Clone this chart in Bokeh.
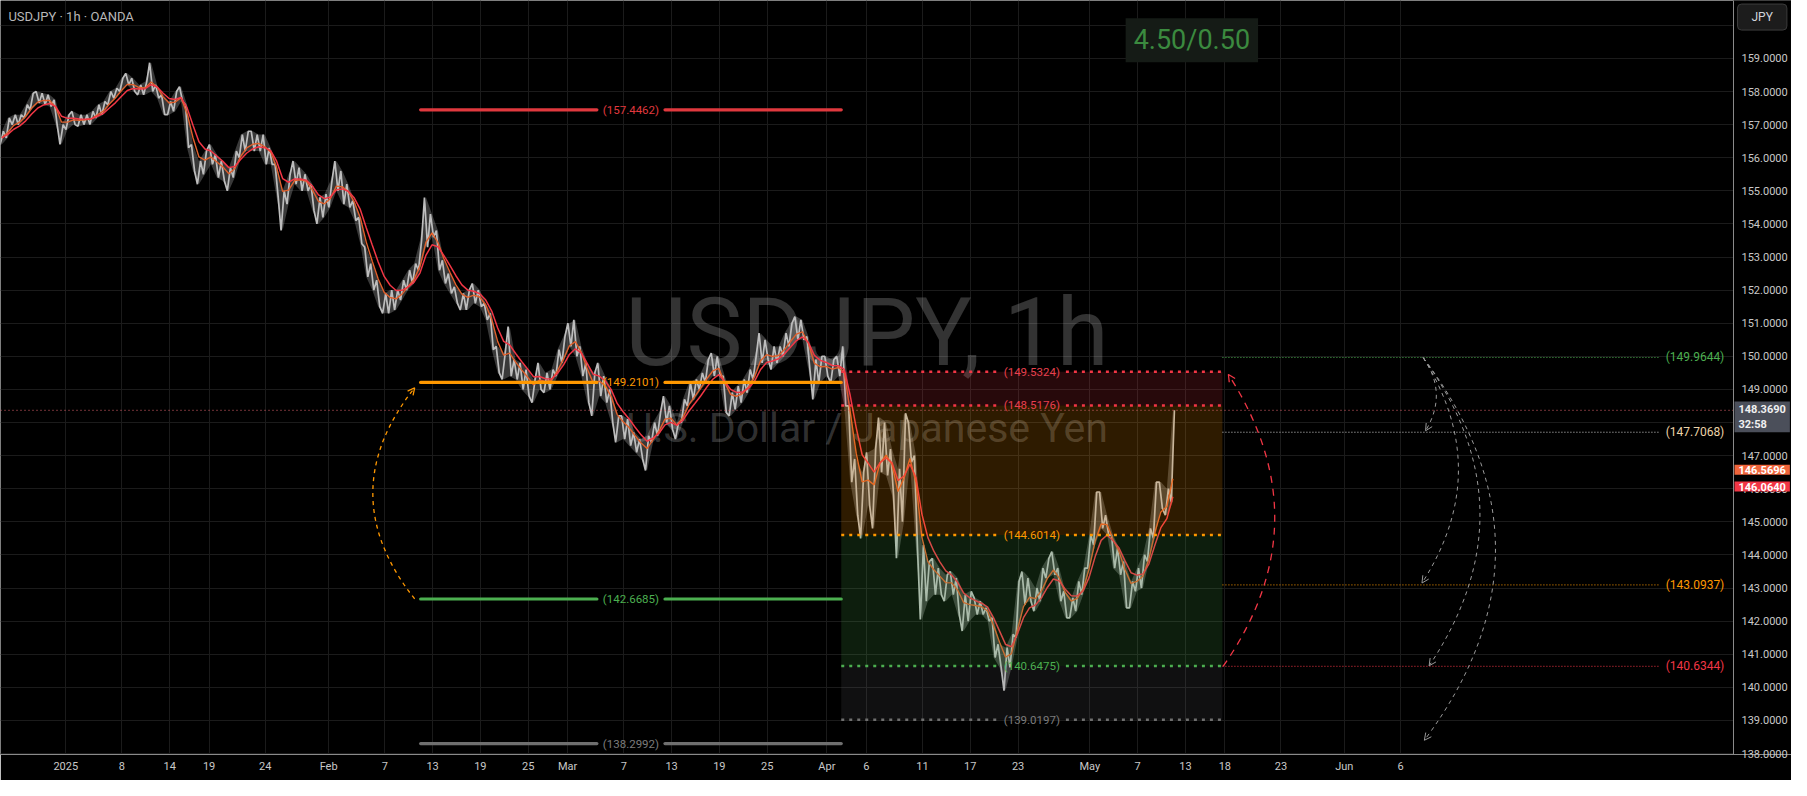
import numpy as np
from bokeh.plotting import figure
from bokeh.models import (Range1d, FixedTicker, Label, Span, Arrow, OpenHead,
                          PrintfTickFormatter)
from bokeh.core.properties import value
from bokeh.embed import file_html
from bokeh.resources import INLINE

FONT = "Roboto"

# ---------------- data ----------------
first_day = "2024-12-23"          # trading-day index 0
holidays = ["2024-12-25", "2025-01-01"]

# half-day (AM, PM) low / high of USDJPY 1h candles, from Dec 23 2024 AM
price_lo = [
    156.40, 156.60, 157.00, 157.00, 157.20, 157.45, 157.65, 157.60, 157.55, 157.00,
    156.40, 156.85, 157.00, 156.95, 157.00, 157.00, 157.20, 157.30, 157.60, 157.80,
    158.00, 158.20, 158.00, 157.90, 157.90, 158.00, 157.80, 157.30, 157.30, 157.40,
    157.70, 156.30, 155.60, 155.20, 155.50, 155.80, 155.40, 155.30, 155.00, 155.40,
    156.00, 156.20, 156.20, 156.20, 155.80, 155.80, 154.80, 153.80, 154.60, 155.20,
    155.00, 155.00, 154.40, 154.00, 154.20, 154.50, 155.00, 154.60, 154.50, 154.10,
    153.40, 152.40, 152.00, 151.50, 151.30, 151.30, 151.40, 151.70, 152.00, 152.20,
    152.60, 153.30, 153.60, 152.60, 152.20, 151.90, 151.60, 151.40, 151.40, 151.60,
    151.50, 151.10, 150.20, 149.50, 149.30, 149.40, 149.30, 149.00, 148.80, 148.60,
    149.00, 148.90, 149.00, 149.40, 149.80, 150.30, 150.00, 149.40, 148.60, 148.20,
    148.80, 148.60, 148.00, 147.40, 147.50, 147.30, 147.10, 146.90, 146.55, 147.40,
    147.60, 148.00, 147.80, 147.50, 148.00, 148.50, 148.70, 149.00, 149.20, 149.40,
    149.40, 148.30, 148.20, 148.40, 148.60, 148.90, 149.30, 149.80, 149.90, 149.60,
    149.80, 150.00, 150.30, 150.50, 150.50, 149.60, 148.70, 149.20, 149.40, 149.20,
    149.40, 148.50, 146.20, 145.20, 144.50, 145.50, 144.80, 146.50, 146.40, 145.80,
    143.90, 145.00, 146.80, 144.20, 142.05, 142.60, 142.80, 142.80, 142.60, 142.80,
    142.20, 141.70, 142.00, 142.20, 142.20, 142.00, 140.90, 140.60, 139.90, 140.60,
    141.50, 142.50, 142.60, 142.30, 142.60, 143.30, 143.40, 142.60, 142.10, 142.10,
    142.30, 142.80, 143.60, 144.30, 144.80, 144.60, 143.60, 143.40, 142.40, 142.40,
    142.90, 143.00, 143.80, 144.50, 145.40, 145.20, 145.60,
]
price_hi = [
    156.80, 157.20, 157.30, 157.30, 157.60, 157.95, 158.00, 157.95, 157.90, 157.75,
    157.00, 157.30, 157.40, 157.30, 157.30, 157.40, 157.60, 157.70, 158.00, 158.10,
    158.40, 158.55, 158.40, 158.20, 158.30, 158.87, 158.20, 157.90, 157.70, 158.00,
    158.15, 157.60, 156.40, 155.90, 156.20, 156.40, 156.10, 155.90, 155.70, 156.20,
    156.70, 156.80, 156.80, 156.70, 156.70, 156.30, 155.80, 155.00, 155.50, 155.90,
    155.70, 155.50, 155.20, 154.80, 154.90, 155.30, 155.90, 155.60, 155.20, 154.70,
    154.20, 153.30, 152.80, 152.30, 151.90, 152.00, 152.00, 152.30, 152.60, 152.80,
    153.50, 154.80, 154.30, 153.80, 152.90, 152.50, 152.10, 151.90, 152.00, 152.20,
    152.00, 151.60, 151.30, 150.30, 150.10, 150.90, 149.90, 149.80, 149.60, 149.30,
    149.80, 149.50, 149.60, 150.20, 150.60, 151.00, 151.10, 150.30, 149.80, 149.50,
    149.80, 149.40, 149.00, 148.20, 148.20, 148.10, 147.70, 147.50, 147.60, 148.00,
    148.30, 148.80, 148.50, 148.00, 148.70, 149.20, 149.30, 149.50, 149.90, 150.10,
    150.00, 149.40, 148.90, 149.10, 149.30, 149.60, 150.00, 150.70, 150.50, 150.30,
    150.30, 150.70, 151.00, 151.20, 151.10, 150.60, 149.90, 150.00, 150.00, 149.90,
    150.00, 150.30, 148.50, 146.90, 146.50, 147.10, 147.20, 148.15, 148.00, 147.20,
    146.60, 148.28, 148.00, 147.00, 144.30, 143.80, 143.90, 143.60, 143.40, 143.50,
    143.30, 142.80, 142.90, 142.70, 142.60, 142.40, 142.10, 141.30, 141.20, 141.60,
    143.20, 143.50, 143.30, 143.00, 143.60, 143.90, 144.10, 143.60, 142.90, 142.70,
    143.20, 143.60, 144.60, 145.90, 145.90, 145.20, 144.60, 144.20, 143.80, 143.20,
    143.60, 144.00, 144.80, 146.20, 146.20, 146.00, 148.37,
]
last_price = 148.3690
bar_countdown = "32:58"
ma_fast_last = 146.5696
ma_slow_last = 146.0640

tick_dates = ["2025-01-01", "2025-01-08", "2025-01-14", "2025-01-19", "2025-01-24",
              "2025-02-02", "2025-02-07", "2025-02-13", "2025-02-19", "2025-02-25",
              "2025-03-02", "2025-03-07", "2025-03-13", "2025-03-19", "2025-03-25",
              "2025-04-01", "2025-04-06", "2025-04-11", "2025-04-17", "2025-04-23",
              "2025-05-01", "2025-05-07", "2025-05-13", "2025-05-18", "2025-05-23",
              "2025-06-01", "2025-06-06"]
tick_labels = ["2025", "8", "14", "19", "24", "Feb", "7", "13", "19", "25",
               "Mar", "7", "13", "19", "25", "Apr", "6", "11", "17", "23",
               "May", "7", "13", "18", "23", "Jun", "6"]
y_ticks = list(range(138, 161))

# horizontal-line drawings (Feb 12 -> Apr 2)
hline_levels = [157.4462, 149.2101, 142.6685, 138.2992]
hline_colors = ["#e0393e", "#ff9800", "#4caf50", "#6f6f6f"]
hline_text_colors = ["#e0393e", "#ff9800", "#4caf50", "#7c7c7c"]
hline_start, hline_end = 35.3, 70.5

# long-position tool (Apr 2 -> May 19)
pos_levels = [149.5324, 148.5176, 144.6014, 140.6475, 139.0197]
pos_line_colors = ["#f23645", "#f23645", "#ff9800", "#4caf50", "#6f6f6f"]
pos_text_colors = ["#e8404e", "#e8404e", "#ff9800", "#4caf50", "#7c7c7c"]
pos_fill_colors = ["#f23645", "#ff9800", "#4caf50", "#787b86"]
pos_start, pos_end = 70.5, 102.4

# target rays to the right
target_levels = [149.9644, 147.7068, 143.0937, 140.6344]
target_line_colors = ["#4caf50", "#cfcfcf", "#ff9800", "#f23645"]
target_text_colors = ["#4caf50", "#ecd3a8", "#ff9800", "#f23645"]
target_start, target_end, target_label_x = 102.4, 138.9, 144.4
ratio_text = "4.50/0.50"

# curved arrows: (x0, y0, x1, y1, bulge) in (trading-day index, price)
orange_arc = (34.8, 142.67, 34.8, 149.05, -3.5)
red_arc = (102.45, 140.63, 102.9, 149.45, 4.1)
gray_arcs = [(119.2, 149.96, 119.4, 147.75, 1.0),
             (119.2, 149.96, 119.1, 143.15, 3.0),
             (119.2, 149.96, 119.7, 140.65, 4.5),
             (119.2, 149.96, 119.3, 138.40, 6.0)]

# ---------------- derived ----------------
lo = np.array(price_lo)
hi = np.array(price_hi)
t = 0.25 + 0.5 * np.arange(len(lo))
mid = (lo + hi) / 2

# candle path: each half-day low/high in the order the price moved
nxt = np.append(mid[1:], mid[-1] + 1.0)
rising = nxt >= mid
zx = np.column_stack([t - 0.13, t + 0.13]).ravel()
zy = np.column_stack([np.where(rising, lo, hi), np.where(rising, hi, lo)]).ravel()


def ema(x, a):
    out = np.empty_like(x)
    out[0] = x[0]
    for i in range(1, len(x)):
        out[i] = a * x[i] + (1 - a) * out[i - 1]
    return out


ma_fast = ema(mid, 0.55)
ma_slow = ema(mid, 0.35)


def bidx(d):
    n = int(np.busday_count(first_day, d, holidays=holidays))
    return n + (0.3 if bool(np.is_busday(d, holidays=holidays)) else -0.4)


tick_pos = [round(bidx(d), 3) for d in tick_dates]

# ---------------- figure ----------------
W, H = 1791, 780
SCALE_W = 58                 # width of the price scale strip
BB = 26
X0, XS = 0.14, 145.17        # chart area (trading-day index), XS = price scale edge
X1 = XS + SCALE_W * (XS - X0) / (W - SCALE_W)
Y0, Y1 = 137.97, 160.75
px = (XS - X0) / (W - SCALE_W)   # data units per pixel

p = figure(width=W, height=H, x_range=Range1d(X0, X1), y_range=Range1d(Y0, Y1),
           y_axis_location="right", output_backend="svg", toolbar_location=None,
           background_fill_color="#000000", border_fill_color="#000000",
           min_border_left=0, min_border_top=0, min_border_right=0, min_border_bottom=BB)
p.outline_line_color = None
p.xgrid.grid_line_color = "#1b1b1b"
p.ygrid.grid_line_color = "#1b1b1b"

for ax in (p.xaxis[0], p.yaxis[0]):
    ax.major_tick_line_color = None
    ax.minor_tick_line_color = None
    ax.major_tick_out = 0
    ax.major_tick_in = 0
    ax.major_label_text_color = "#c8c8c8"
    ax.major_label_text_font = FONT
    ax.major_label_text_font_size = "11px"
p.xaxis.axis_line_color = "#8a8a8a"
p.yaxis.axis_line_color = None
p.yaxis.ticker = FixedTicker(ticks=y_ticks)
p.yaxis.formatter = PrintfTickFormatter(format="%.4f")
p.yaxis.major_label_overrides = {160: ""}
p.yaxis.major_label_standoff = -(SCALE_W - 8)
p.xaxis.ticker = FixedTicker(ticks=tick_pos)
p.xaxis.major_label_overrides = {tp: lab for tp, lab in zip(tick_pos, tick_labels)}
p.xaxis.major_label_standoff = 5

# price-scale strip background and its border line
p.quad(left=XS, right=X1 + 1, bottom=Y0 - 1, top=Y1 + 1, fill_color="#000000", line_color=None)
p.add_layout(Span(location=XS, dimension="height", line_color="#8a8a8a", line_width=1))

xmid = (X0 + XS) / 2
# watermark
p.add_layout(Label(x=xmid, y=150.70, text="USDJPY, 1h", text_align="center",
                   text_baseline="middle", text_font=FONT, text_font_size="94px",
                   text_color="#ffffff", text_alpha=0.2, level="underlay"))
p.add_layout(Label(x=xmid, y=147.83, text="U.S. Dollar / Japanese Yen", text_align="center",
                   text_baseline="middle", text_font=FONT, text_font_size="41px",
                   text_color="#ffffff", text_alpha=0.2, level="underlay"))

# candles + moving averages
p.varea(x=t, y1=lo, y2=hi, fill_color="#bdbdbd", fill_alpha=0.3)
p.line(zx, zy, line_color="#bdbdbd", line_width=1.7)
p.line(t, ma_fast, line_color="#e0602c", line_width=1.4)
p.line(t, ma_slow, line_color="#f23645", line_width=1.5)

GAP = 2.85
# horizontal line drawings
hmid = (hline_start + hline_end) / 2
n = len(hline_levels)
p.segment(x0=[hline_start] * n + [hmid + GAP] * n, y0=hline_levels * 2,
          x1=[hmid - GAP] * n + [hline_end] * n, y1=hline_levels * 2,
          line_color=hline_colors * 2, line_width=3.2, line_cap="round")
p.text(x=[hmid] * n, y=hline_levels, text=[f"({v:.4f})" for v in hline_levels],
       text_color=hline_text_colors, text_font=value(FONT), text_font_size="11.5px",
       text_align="center", text_baseline="middle")

# position tool
p.quad(left=pos_start, right=pos_end, top=pos_levels[:-1], bottom=pos_levels[1:],
       fill_color=pos_fill_colors, fill_alpha=[0.16, 0.18, 0.17, 0.13], line_color=None)
pmid = (pos_start + pos_end) / 2
m = len(pos_levels)
p.segment(x0=[pos_start] * m + [pmid + GAP] * m, y0=pos_levels * 2,
          x1=[pmid - GAP] * m + [pos_end] * m, y1=pos_levels * 2,
          line_color=pos_line_colors * 2, line_width=2.5, line_dash="3 5")
p.text(x=[pmid] * m, y=pos_levels, text=[f"({v:.4f})" for v in pos_levels],
       text_color=pos_text_colors, text_font=value(FONT), text_font_size="11.5px",
       text_align="center", text_baseline="middle")

# target rays
k = len(target_levels)
p.segment(x0=[target_start] * k, y0=target_levels, x1=[target_end] * k, y1=target_levels,
          line_color=target_line_colors, line_width=1, line_dash="1 2")
p.text(x=[target_label_x] * k, y=target_levels, text=[f"({v:.4f})" for v in target_levels],
       text_color=target_text_colors, text_font=value(FONT), text_font_size="12px",
       text_align="right", text_baseline="middle")

# last price line (up to the price scale)
p.segment(x0=[X0], y0=[last_price], x1=[XS], y1=[last_price], line_color="#e5646f",
          line_width=1, line_dash="1 3")


# curved arrows
def draw_arc(a, color, dash, width):
    x0, y0, x1, y1, b = a
    cx = (x0 + x1) / 2 + 4.0 / 3.0 * b
    cy0 = y0 + (y1 - y0) / 3
    cy1 = y0 + 2 * (y1 - y0) / 3
    p.bezier(x0=[x0], y0=[y0], x1=[x1], y1=[y1], cx0=[cx], cy0=[cy0], cx1=[cx], cy1=[cy1],
             line_color=color, line_width=width, line_dash=dash)
    xs = x1 - 0.12 * (x1 - cx)
    ys = y1 - 0.12 * (y1 - cy1)
    p.add_layout(Arrow(end=OpenHead(size=7, line_color=color, line_width=width),
                       x_start=xs, y_start=ys, x_end=x1, y_end=y1, line_alpha=0))


draw_arc(orange_arc, "#ff9800", "4 4", 1.3)
draw_arc(red_arc, "#f23645", "7 6", 1.3)
for g in gray_arcs:
    draw_arc(g, "#9a9a9a", "4 4", 1.0)

# top-left title
p.add_layout(Label(x=0.8, y=160.28, text="USDJPY \u00b7 1h \u00b7 OANDA", text_font=FONT,
                   text_font_size="13px", text_color="#b8b8b8", text_baseline="middle"))
# risk/reward box
p.add_layout(Label(x=94.3, y=159.55, text=ratio_text, text_font=FONT, text_font_size="27px",
                   text_color="#3b8a3f", text_baseline="middle",
                   background_fill_color="#151b16", padding=(8, 6)))
# JPY button (on the price scale)
p.add_layout(Label(x=XS + 4 * px, y=160.25, text="JPY", text_font=FONT,
                   text_font_size="12px", text_color="#d1d4dc", text_baseline="middle",
                   background_fill_color="#1c1c1c", border_line_color="#3c3c3c",
                   padding=(14, 6), border_radius=4, level="overlay"))

# price scale tags
tag_x = XS + 1 * px
p.add_layout(Label(x=tag_x, y=last_price - 0.2,
                   text=f"{last_price:.4f}\n{bar_countdown}", text_font=FONT,
                   text_font_size="11px", text_font_style="bold", text_color="#f0f0f0",
                   text_baseline="middle", background_fill_color="#4b4f5a",
                   padding=(4, 1), level="overlay"))
p.add_layout(Label(x=tag_x, y=ma_fast_last, text=f"{ma_fast_last:.4f}",
                   text_font=FONT, text_font_size="11px", text_font_style="bold",
                   text_color="#ffffff", text_baseline="middle",
                   background_fill_color="#f0643a", padding=(4, 1), level="overlay"))
p.add_layout(Label(x=tag_x, y=ma_slow_last, text=f"{ma_slow_last:.4f}",
                   text_font=FONT, text_font_size="11px", text_font_style="bold",
                   text_color="#ffffff", text_baseline="middle",
                   background_fill_color="#f23645", padding=(4, 1), level="overlay"))

open("out.html", "w").write(file_html(p, INLINE))
